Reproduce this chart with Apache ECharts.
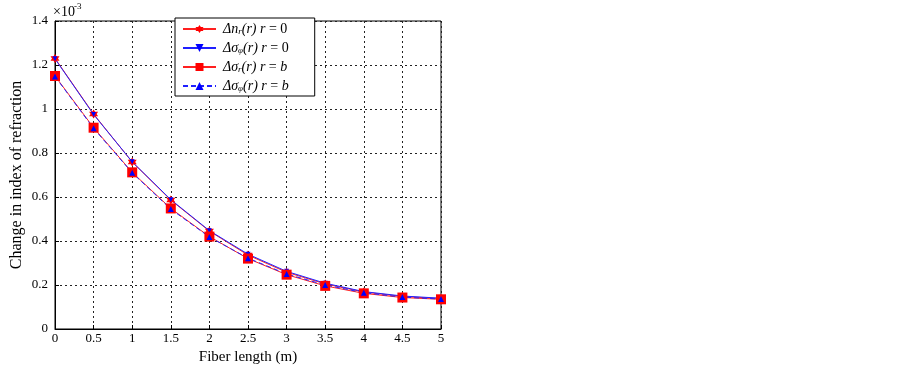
<!DOCTYPE html>
<html>
<head>
<meta charset="utf-8">
<script src="https://cdn.jsdelivr.net/npm/echarts@6/dist/echarts.min.js"></script>
<style>
  html, body { margin: 0; padding: 0; background: #fff; }
  #chart { width: 902px; height: 365px; }
</style>
</head>
<body>
<div id="chart"></div>
<script>
// fiber length (m)
const lengths = [0, 0.5, 1, 1.5, 2, 2.5, 3, 3.5, 4, 4.5, 5];
// change in index of refraction, x 10^-3
const dnR_r0 = [1.23, 0.977, 0.759, 0.586, 0.445, 0.336, 0.258, 0.205, 0.168, 0.148, 0.138];
const dsPhi_r0 = [1.228, 0.975, 0.76, 0.588, 0.447, 0.34, 0.262, 0.208, 0.17, 0.15, 0.14];
const dsR_rb = [1.15, 0.915, 0.712, 0.548, 0.42, 0.32, 0.247, 0.196, 0.162, 0.143, 0.135];
const dsPhi_rb = [1.148, 0.912, 0.71, 0.545, 0.418, 0.322, 0.25, 0.2, 0.165, 0.145, 0.136];
const seriesNames = ['dnr0', 'dsp0', 'dsrb', 'dspb'];

const font = 'Liberation Serif';
const pairs = arr => lengths.map((x, i) => [x, arr[i]]);
const starPath = 'path://M0,-10 L2.9,-5 L8.7,-5 L5.8,0 L8.7,5 L2.9,5 L0,10 L-2.9,5 L-8.7,5 L-5.8,0 L-8.7,-5 L-2.9,-5 Z';

const legendText = {
  dnr0: '{i|Δn}{s|r}{i|(r) r} = 0',
  dsp0: '{i|Δσ}{s|φ}{i|(r) r} = 0',
  dsrb: '{i|Δσ}{s|r}{i|(r) r} = {i|b}',
  dspb: '{i|Δσ}{s|φ}{i|(r) r} = {i|b}'
};

const chart = echarts.init(document.getElementById('chart'));
const gridLine = { show: true, lineStyle: { color: '#222', type: [2, 3], width: 1 } };

chart.setOption({
  animation: false,
  textStyle: { fontFamily: font },
  grid: {
    left: 55, right: 461, top: 21, bottom: 36,
    outerBoundsMode: 'none', containLabel: false,
    show: true, borderColor: '#000', borderWidth: 1
  },
  legend: {
    orient: 'vertical',
    left: 175, top: 18,
    backgroundColor: '#fff',
    borderColor: '#000', borderWidth: 1,
    padding: [3, 26, 2, 7],
    itemWidth: 33, itemHeight: 10, itemGap: 3,
    data: seriesNames,
    formatter: n => legendText[n],
    textStyle: {
      fontFamily: font, fontSize: 14, color: '#000', padding: [0, 0, 0, 2], lineHeight: 16,
      rich: {
        i: { fontFamily: font, fontSize: 14, fontStyle: 'italic', color: '#000', lineHeight: 16 },
        s: { fontFamily: font, fontSize: 9, fontStyle: 'italic', color: '#000', lineHeight: 16, padding: [6, 0, 0, 0] }
      }
    }
  },
  graphic: [{
    type: 'text', left: 53, top: 5,
    style: { text: '×10', font: '14px "Liberation Serif"', fill: '#000' }
  }, {
    type: 'text', left: 74, top: 2,
    style: { text: '-3', font: '9px "Liberation Serif"', fill: '#000' }
  }],
  xAxis: {
    type: 'value', min: 0, max: 5, interval: 0.5,
    name: 'Fiber length (m)', nameLocation: 'middle', nameGap: 21,
    nameTextStyle: { fontFamily: font, fontSize: 15, color: '#000' },
    axisLine: { lineStyle: { color: '#000' } },
    axisTick: { inside: true, length: 4, lineStyle: { color: '#000' } },
    axisLabel: { fontFamily: font, fontSize: 13, color: '#000', margin: 3 },
    splitLine: gridLine
  },
  yAxis: {
    type: 'value', min: 0, max: 1.4, interval: 0.2,
    name: 'Change in index of refraction', nameLocation: 'middle', nameGap: 30,
    nameTextStyle: { fontFamily: font, fontSize: 16, color: '#000' },
    axisLine: { show: true, lineStyle: { color: '#000' } },
    axisTick: { show: true, inside: true, length: 4, lineStyle: { color: '#000' } },
    axisLabel: { fontFamily: font, fontSize: 13, color: '#000', margin: 7 },
    splitLine: gridLine
  },
  series: [{
    name: 'dnr0', type: 'line', data: pairs(dnR_r0),
    symbol: starPath, symbolSize: 9,
    itemStyle: { color: '#ff0000' }, lineStyle: { color: '#ff2020', width: 1 }
  }, {
    name: 'dsp0', type: 'line', data: pairs(dsPhi_r0),
    symbol: 'triangle', symbolRotate: 180, symbolSize: 5,
    itemStyle: { color: '#0000ff' }, lineStyle: { color: '#2020ff', width: 1 }
  }, {
    name: 'dsrb', type: 'line', data: pairs(dsR_rb),
    symbol: 'rect', symbolSize: 10,
    itemStyle: { color: '#ff0000' }, lineStyle: { color: '#ff2020', width: 1 }
  }, {
    name: 'dspb', type: 'line', data: pairs(dsPhi_rb),
    symbol: 'triangle', symbolSize: 6,
    itemStyle: { color: '#0000ff' }, lineStyle: { color: '#2020ff', width: 1, type: [5, 3] }
  }]
});
</script>
</body>
</html>
